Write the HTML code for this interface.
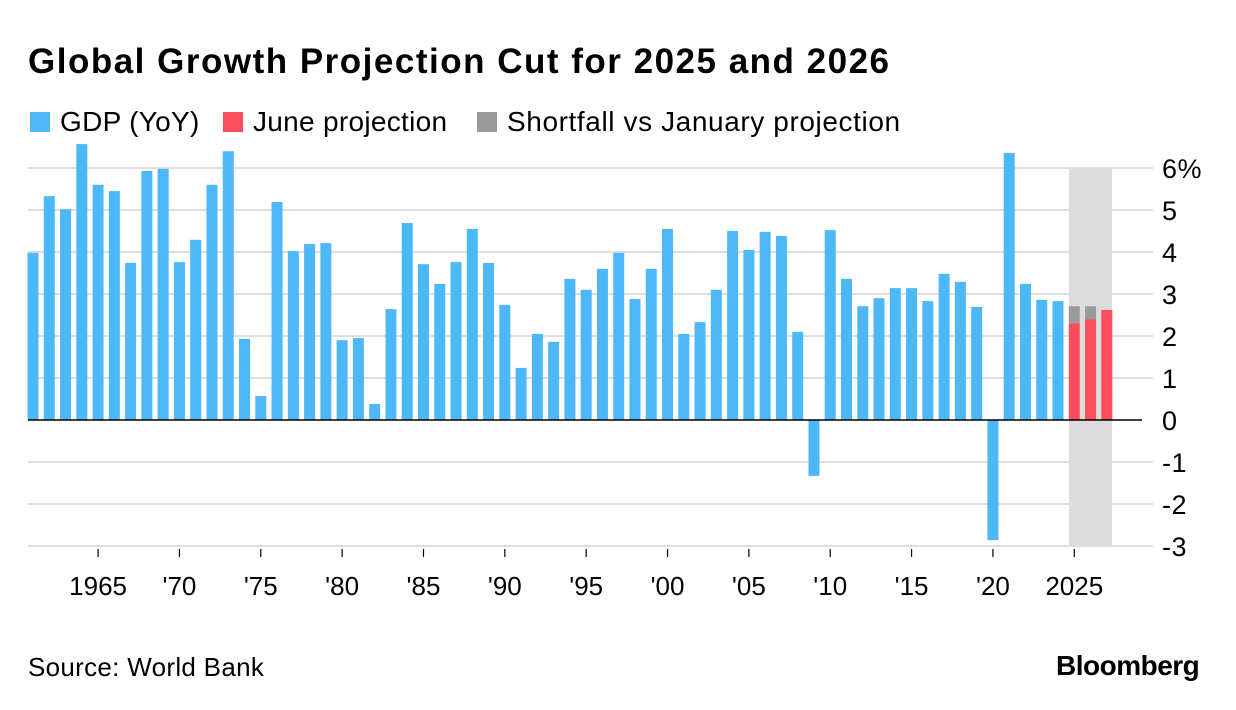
<!DOCTYPE html>
<html><head><meta charset="utf-8"><style>
body{margin:0;background:#fff;font-family:"Liberation Sans",sans-serif;}
#wrap{position:relative;width:1236px;height:710px;overflow:hidden;}
.t{position:absolute;white-space:nowrap;color:#000;}
</style></head><body>
<div id="wrap">
<div class="t" style="left:28px;top:42px;font-size:35px;font-weight:bold;letter-spacing:1.5px;">Global Growth Projection Cut for 2025 and 2026</div>
<div>
<div><div style="position:absolute;left:30px;top:112px;width:20px;height:20px;background:#4db8f8"></div><div class="t" style="left:60px;top:106px;font-size:28px;letter-spacing:0.3px;">GDP (YoY)</div></div>
<div><div style="position:absolute;left:223px;top:112px;width:20px;height:20px;background:#fb4d5a"></div><div class="t" style="left:253px;top:106px;font-size:28px;letter-spacing:0.3px;">June projection</div></div>
<div><div style="position:absolute;left:477px;top:112px;width:20px;height:20px;background:#9a9a9a"></div><div class="t" style="left:507px;top:106px;font-size:28px;letter-spacing:0.6px;">Shortfall vs January projection</div></div>
</div>
<svg id="chart" width="1236" height="710" style="position:absolute;left:0;top:0"></svg>
<div class="t" style="left:28px;top:652px;font-size:26px;letter-spacing:0.3px;">Source: World Bank</div>
<div class="t" style="left:1056px;top:650px;font-size:28px;font-weight:bold;letter-spacing:-0.5px;">Bloomberg</div>
</div>
<script>
const years=[];for(let y=1961;y<=2024;y++)years.push(y);
const gdp=[3.98,5.33,5.02,6.57,5.6,5.45,3.74,5.93,5.98,3.76,4.29,5.6,6.4,1.93,0.57,5.19,4.02,4.19,4.21,1.9,1.95,0.38,2.64,4.69,3.71,3.24,3.76,4.55,3.74,2.74,1.24,2.05,1.86,3.36,3.1,3.6,3.98,2.88,3.6,4.55,2.05,2.33,3.1,4.5,4.05,4.48,4.38,2.1,-1.33,4.52,3.36,2.71,2.9,3.14,3.14,2.83,3.48,3.29,2.69,-2.86,6.36,3.24,2.86,2.83];
const projYears=[2025,2026,2027];
const juneProj=[2.3,2.4,2.62];
const janProj=[2.71,2.71,2.62];
const yTicks=[6,5,4,3,2,1,0,-1,-2,-3];
const xTickYears=[1965,1970,1975,1980,1985,1990,1995,2000,2005,2010,2015,2020,2025];
const xTickLabels=["1965","'70","'75","'80","'85","'90","'95","'00","'05","'10","'15","'20","2025"];
const svg=document.getElementById('chart');const NS='http://www.w3.org/2000/svg';
const X=y=>33+(y-1961)*16.27;const Y=v=>420-42*v;const BW=11;
function mk(t,a){const e=document.createElementNS(NS,t);for(const k in a)e.setAttribute(k,a[k]);svg.appendChild(e);return e;}
let e;
e=mk('rect',{x:1069,y:Y(6),width:43,height:Y(-3)-Y(6),fill:'#dcdcdc'});


yTicks.forEach(v=>{
 if(v!==0){e=mk('line',{x1:28,x2:1153,y1:Y(v),y2:Y(v),stroke:'#dedede','stroke-width':2});
 
 }
 e=mk('text',{x:1162,y:Y(v)+10,'font-size':27,'letter-spacing':'0.5','font-family':'Liberation Sans, sans-serif',fill:'#000'});
 e.textContent=v===6?'6%':String(v);
 
 
});
years.forEach((yr,i)=>{const v=gdp[i];
 e=mk('rect',{x:X(yr)-BW/2,y:Math.min(Y(v),Y(0)),width:BW,height:Math.abs(Y(v)-Y(0)),fill:'#4db8f8'});
 
 
});
projYears.forEach((yr,i)=>{
 if(janProj[i]>juneProj[i]){e=mk('rect',{x:X(yr)-BW/2,y:Y(janProj[i]),width:BW,height:Y(juneProj[i])-Y(janProj[i]),fill:'#9a9a9a'});
 
 }
 e=mk('rect',{x:X(yr)-BW/2,y:Y(juneProj[i]),width:BW,height:Y(0)-Y(juneProj[i]),fill:'#fb4d5a'});
 
 
});
e=mk('line',{x1:28,x2:1142,y1:Y(0),y2:Y(0),stroke:'#000','stroke-width':1.5});


xTickYears.forEach((yr,i)=>{
 e=mk('line',{x1:X(yr),x2:X(yr),y1:549,y2:557,stroke:'#000','stroke-width':1.2});
 
 
 e=mk('text',{x:X(yr),y:595,'font-size':26,'text-anchor':'middle','font-family':'Liberation Sans, sans-serif',fill:'#000'});
 e.textContent=xTickLabels[i];
 
 
});
</script>
</body></html>
